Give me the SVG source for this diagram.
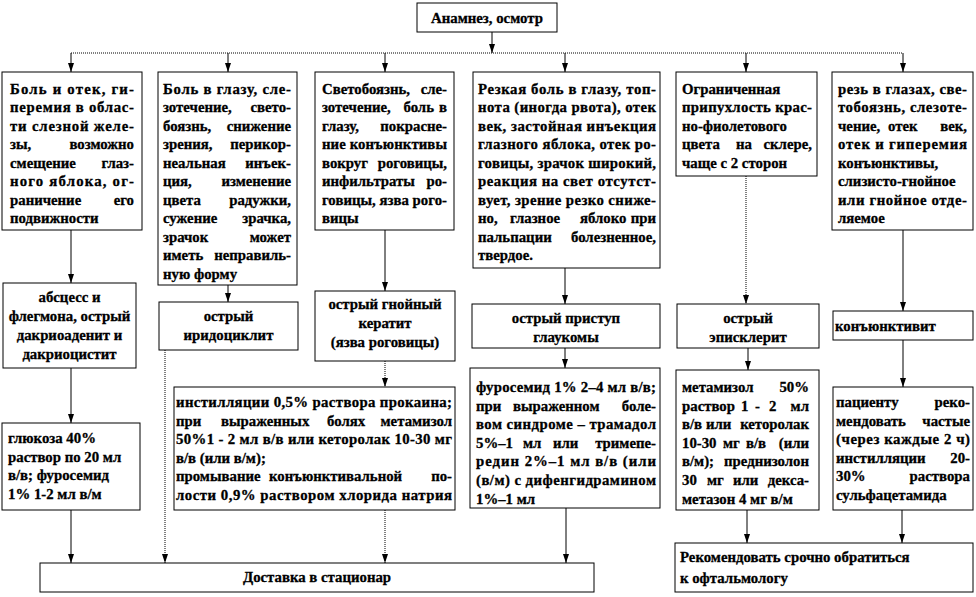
<svg xmlns="http://www.w3.org/2000/svg" width="976" height="597" viewBox="0 0 976 597">
<style>
.b{fill:#fff;stroke:#000;stroke-width:1}
text{font-family:'Liberation Serif','Times New Roman',serif;font-size:14.8px;font-weight:bold;fill:#000;stroke:#000;stroke-width:0.3}
.r{text-anchor:end}
.m{text-anchor:middle}
.c{fill:none;stroke:#000;stroke-width:1}
.d{stroke-dasharray:1 1}
</style>
<defs>
<marker id="a" viewBox="0 0 9 6" refX="9" refY="3" markerWidth="9" markerHeight="6" markerUnits="userSpaceOnUse" orient="auto"><path d="M0,0 L9,3 L0,6 z" fill="#000"/></marker>
</defs>
<g id="connectors">
<path class="c" d="M492,32 V53" marker-end="url(#a)"/>
<path class="c d" d="M71,53 H903"/>
<path class="c" d="M71,53 V72" marker-end="url(#a)"/>
<path class="c" d="M228,53 V72" marker-end="url(#a)"/>
<path class="c" d="M385,53 V72" marker-end="url(#a)"/>
<path class="c" d="M565,53 V72" marker-end="url(#a)"/>
<path class="c" d="M746,53 V72" marker-end="url(#a)"/>
<path class="c" d="M903,53 V72" marker-end="url(#a)"/>
<path class="c" d="M71,230 V283" marker-end="url(#a)"/>
<path class="c" d="M228,285 V302" marker-end="url(#a)"/>
<path class="c" d="M385,230 V291" marker-end="url(#a)"/>
<path class="c" d="M565,268 V304" marker-end="url(#a)"/>
<path class="c d" d="M746,176 V304" marker-end="url(#a)"/>
<path class="c" d="M903,230 V311" marker-end="url(#a)"/>
<path class="c" d="M71,368 V423" marker-end="url(#a)"/>
<path class="c d" d="M385,361 V387" marker-end="url(#a)"/>
<path class="c" d="M565,348 V368" marker-end="url(#a)"/>
<path class="c" d="M748,348 V370" marker-end="url(#a)"/>
<path class="c" d="M903,340 V387" marker-end="url(#a)"/>
<path class="c" d="M71,510 V563" marker-end="url(#a)"/>
<path class="c d" d="M165,350 V563" marker-end="url(#a)"/>
<path class="c d" d="M385,510 V563" marker-end="url(#a)"/>
<path class="c" d="M566,508 V563" marker-end="url(#a)"/>
<path class="c" d="M747,510 V543" marker-end="url(#a)"/>
<path class="c" d="M902,510 V543" marker-end="url(#a)"/>
</g>
<g id="n-top"><rect class="b" x="417" y="3" width="140" height="29"/><text class="m" x="487" y="23">Анамнез, осмотр</text></g>
<g id="n1">
<rect class="b" x="2" y="72" width="140" height="158"/>
<text x="10" y="93.5" textLength="124" lengthAdjust="spacing">Боль и отек, ги-</text>
<text x="10" y="112" textLength="124" lengthAdjust="spacing">перемия в облас-</text>
<text x="10" y="130.5" textLength="124" lengthAdjust="spacing">ти слезной желе-</text>
<text x="10" y="149">зы,</text><text class="r" x="134" y="149">возможно</text>
<text x="10" y="167.5">смещение</text><text class="r" x="134" y="167.5">глаз-</text>
<text x="10" y="186" textLength="124" lengthAdjust="spacing">ного яблока, ог-</text>
<text x="10" y="204.5">раничение</text><text class="r" x="134" y="204.5">его</text>
<text x="10" y="223">подвижности</text>
</g>
<g id="n2">
<rect class="b" x="158" y="72" width="139" height="213"/>
<text x="163" y="93.5" textLength="128" lengthAdjust="spacing">Боль в глазу, сле-</text>
<text x="163" y="112">зотечение,</text><text class="r" x="291" y="112">свето-</text>
<text x="163" y="130.5">боязнь,</text><text class="r" x="291" y="130.5">снижение</text>
<text x="163" y="149">зрения,</text><text class="r" x="291" y="149">перикор-</text>
<text x="163" y="167.5">неальная</text><text class="r" x="291" y="167.5">инъек-</text>
<text x="163" y="186">ция,</text><text class="r" x="291" y="186">изменение</text>
<text x="163" y="204.5">цвета</text><text class="r" x="291" y="204.5">радужки,</text>
<text x="163" y="223">сужение</text><text class="r" x="291" y="223">зрачка,</text>
<text x="163" y="241.5">зрачок</text><text class="r" x="291" y="241.5">может</text>
<text x="163" y="260">иметь</text><text class="r" x="291" y="260">неправиль-</text>
<text x="163" y="278.5">ную форму</text>
</g>
<g id="n3">
<rect class="b" x="315" y="72" width="139" height="158"/>
<text x="322" y="93.5">Светобоязнь,</text><text class="r" x="447" y="93.5">сле-</text>
<text x="322" y="112">зотечение,</text><text class="r" x="434" y="112">боль</text><text class="r" x="447" y="112">в</text>
<text x="322" y="130.5">глазу,</text><text class="r" x="447" y="130.5">покрасне-</text>
<text x="322" y="149" textLength="125" lengthAdjust="spacing">ние конъюнктивы</text>
<text x="322" y="167.5">вокруг</text><text class="r" x="447" y="167.5">роговицы,</text>
<text x="322" y="186">инфильтраты</text><text class="r" x="447" y="186">ро-</text>
<text x="322" y="204.5" textLength="125" lengthAdjust="spacing">говицы, язва рого-</text>
<text x="322" y="223">вицы</text>
</g>
<g id="n4">
<rect class="b" x="473" y="72" width="187" height="196"/>
<text x="478" y="93.5" textLength="178" lengthAdjust="spacing">Резкая боль в глазу, топ-</text>
<text x="478" y="112" textLength="178" lengthAdjust="spacing">нота (иногда рвота), отек</text>
<text x="478" y="130.5" textLength="178" lengthAdjust="spacing">век, застойная инъекция</text>
<text x="478" y="149" textLength="178" lengthAdjust="spacing">глазного яблока, отек ро-</text>
<text x="478" y="167.5" textLength="178" lengthAdjust="spacing">говицы, зрачок широкий,</text>
<text x="478" y="186" textLength="178" lengthAdjust="spacing">реакция на свет отсутст-</text>
<text x="478" y="204.5" textLength="178" lengthAdjust="spacing">вует, зрение резко сниже-</text>
<text x="478" y="223">но,</text><text x="510" y="223">глазное</text><text x="580" y="223">яблоко</text><text class="r" x="656" y="223">при</text>
<text x="478" y="241.5">пальпации</text><text class="r" x="656" y="241.5">болезненное,</text>
<text x="478" y="260">твердое.</text>
</g>
<g id="n5">
<rect class="b" x="676" y="72" width="141" height="104"/>
<text x="682" y="93.5">Ограниченная</text>
<text x="682" y="112" textLength="130" lengthAdjust="spacing">припухлость крас-</text>
<text x="682" y="130.5">но-фиолетового</text>
<text x="682" y="149">цвета</text><text x="736" y="149">на</text><text class="r" x="812" y="149">склере,</text>
<text x="682" y="167.5">чаще с 2 сторон</text>
</g>
<g id="n6">
<rect class="b" x="832" y="72" width="141" height="158"/>
<text x="838" y="93.5" textLength="129" lengthAdjust="spacing">резь в глазах, све-</text>
<text x="838" y="112" textLength="129" lengthAdjust="spacing">тобоязнь, слезоте-</text>
<text x="838" y="130.5">чение,</text><text x="888" y="130.5">отек</text><text class="r" x="967" y="130.5">век,</text>
<text x="838" y="149" textLength="129" lengthAdjust="spacing">отек и гиперемия</text>
<text x="838" y="167.5">конъюнктивы,</text>
<text x="838" y="186">слизисто-гнойное</text>
<text x="838" y="204.5" textLength="129" lengthAdjust="spacing">или гнойное отде-</text>
<text x="838" y="223">ляемое</text>
</g>
<g id="n7">
<rect class="b" x="3" y="283" width="133" height="85"/>
<text class="m" x="69.5" y="302">абсцесс и</text>
<text class="m" x="69.5" y="321">флегмона, острый</text>
<text class="m" x="69.5" y="340">дакриоаденит и</text>
<text class="m" x="69.5" y="359">дакриоцистит</text>
</g>
<g id="n8">
<rect class="b" x="159" y="302" width="139" height="48"/>
<text class="m" x="228.5" y="321">острый</text>
<text class="m" x="228.5" y="339.5">иридоциклит</text>
</g>
<g id="n9">
<rect class="b" x="315" y="291" width="140" height="70"/>
<text class="m" x="385" y="309">острый гнойный</text>
<text class="m" x="385" y="328">кератит</text>
<text class="m" x="385" y="346.5">(язва роговицы)</text>
</g>
<g id="n10">
<rect class="b" x="472" y="304" width="188" height="44"/>
<text class="m" x="566" y="323">острый приступ</text>
<text class="m" x="566" y="341.5">глаукомы</text>
</g>
<g id="n11">
<rect class="b" x="677" y="304" width="142" height="44"/>
<text class="m" x="748" y="323">острый</text>
<text class="m" x="748" y="341.5">эписклерит</text>
</g>
<g id="n12">
<rect class="b" x="833" y="311" width="140" height="29"/>
<text x="835" y="331">конъюнктивит</text>
</g>
<g id="n13">
<rect class="b" x="2" y="423" width="138" height="87"/>
<text x="8" y="443">глюкоза 40%</text>
<text x="8" y="461.5">раствор по 20 мл</text>
<text x="8" y="480">в/в; фуросемид</text>
<text x="8" y="498.5">1% 1-2 мл в/м</text>
</g>
<g id="n14">
<rect class="b" x="174" y="387" width="281" height="123"/>
<text x="176" y="407" textLength="276" lengthAdjust="spacing">инстилляции 0,5% раствора прокаина;</text>
<text x="176" y="425.6">при</text><text x="221" y="425.6">выраженных</text><text x="327" y="425.6">болях</text><text class="r" x="452" y="425.6">метамизол</text>
<text x="176" y="444.2" textLength="276" lengthAdjust="spacing">50%1 - 2 мл в/в или кеторолак 10-30 мг</text>
<text x="176" y="462.8">в/в (или в/м);</text>
<text x="176" y="481.4">промывание</text><text x="269" y="481.4">конъюнктивальной</text><text class="r" x="452" y="481.4">по-</text>
<text x="176" y="500" textLength="276" lengthAdjust="spacing">лости 0,9% раствором хлорида натрия</text>
</g>
<g id="n15">
<rect class="b" x="470" y="368" width="190" height="140"/>
<text x="476" y="392" textLength="180" lengthAdjust="spacing">фуросемид 1% 2–4 мл в/в;</text>
<text x="476" y="410.6">при</text><text x="513" y="410.6">выраженном</text><text class="r" x="656" y="410.6">боле-</text>
<text x="476" y="429.2" textLength="180" lengthAdjust="spacing">вом синдроме – трамадол</text>
<text x="476" y="447.8">5%–1</text><text x="523" y="447.8">мл</text><text x="553" y="447.8">или</text><text class="r" x="656" y="447.8">тримепе-</text>
<text x="476" y="466.4" textLength="180" lengthAdjust="spacing">редин 2%–1 мл в/в (или</text>
<text x="476" y="485" textLength="180" lengthAdjust="spacing">(в/м) с дифенгидрамином</text>
<text x="476" y="503.6">1%–1 мл</text>
</g>
<g id="n16">
<rect class="b" x="676" y="370" width="143" height="140"/>
<text x="682" y="392">метамизол</text><text class="r" x="809" y="392">50%</text>
<text x="682" y="410.6">раствор</text><text x="741" y="410.6">1</text><text x="755" y="410.6">-</text><text x="769" y="410.6">2</text><text class="r" x="809" y="410.6">мл</text>
<text x="682" y="429.2">в/в</text><text x="706" y="429.2">или</text><text class="r" x="809" y="429.2">кеторолак</text>
<text x="682" y="447.8">10-30</text><text x="723" y="447.8">мг</text><text x="746" y="447.8">в/в</text><text class="r" x="809" y="447.8">(или</text>
<text x="682" y="466.4">в/м);</text><text class="r" x="809" y="466.4">преднизолон</text>
<text x="682" y="485">30</text><text x="707" y="485">мг</text><text x="733" y="485">или</text><text class="r" x="809" y="485">декса-</text>
<text x="682" y="503.6">метазон 4 мг в/м</text>
</g>
<g id="n17">
<rect class="b" x="833" y="387" width="140" height="123"/>
<text x="836" y="407">пациенту</text><text class="r" x="970" y="407">реко-</text>
<text x="836" y="425.6">мендовать</text><text class="r" x="970" y="425.6">частые</text>
<text x="836" y="444.2" textLength="134" lengthAdjust="spacing">(через каждые 2 ч)</text>
<text x="836" y="462.8">инстилляции</text><text class="r" x="970" y="462.8">20-</text>
<text x="836" y="481.4">30%</text><text class="r" x="970" y="481.4">раствора</text>
<text x="836" y="500">сульфацетамида</text>
</g>
<g id="n18">
<rect class="b" x="40" y="563" width="554" height="29"/>
<text class="m" x="317" y="582">Доставка в стационар</text>
</g>
<g id="n19">
<rect class="b" x="675" y="543" width="298" height="49"/>
<text x="680" y="562">Рекомендовать срочно обратиться</text>
<text x="680" y="583">к офтальмологу</text>
</g>
</svg>
